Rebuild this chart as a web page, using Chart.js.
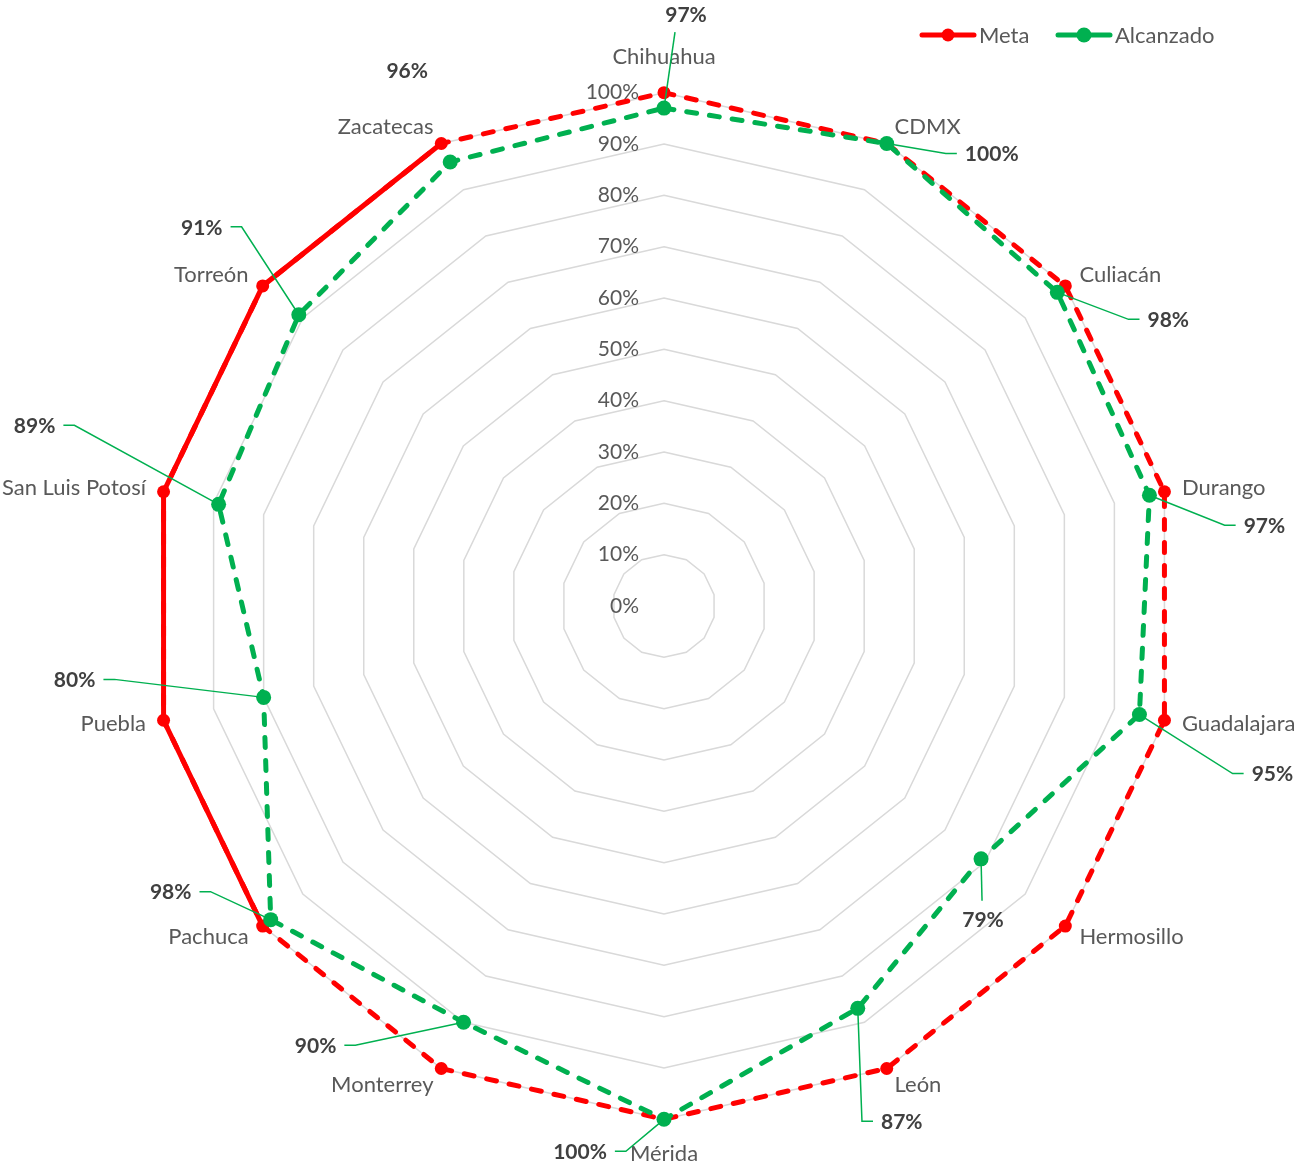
<!DOCTYPE html>
<html>
<head>
<meta charset="utf-8">
<script src="https://cdn.jsdelivr.net/npm/chart.js@4.4.1/dist/chart.umd.min.js"></script>
<style>
  html, body { margin: 0; background: #fff; overflow: hidden; }
  #wrap { width: 1298px; height: 1166px; overflow: hidden; position: relative; }
  /* canvas is a bit wider/taller than the page so the radar fills it like the original */
  #radar { position: absolute; left: -13px; top: 0; }
</style>
</head>
<body>
<div id="wrap"><canvas id="radar" width="1324" height="1180"></canvas></div>
<script>
// data
const cities = ['Chihuahua', 'CDMX', 'Culiacán', 'Durango', 'Guadalajara', 'Hermosillo', 'León',
                'Mérida', 'Monterrey', 'Pachuca', 'Puebla', 'San Luis Potosí', 'Torreón', 'Zacatecas'];
const meta = [100, 100, 100, 100, 100, 100, 100, 100, 100, 100, 100, 100, 100, 100];
const alcanzado = [97, 100, 98, 97, 95, 79, 87, 100, 90, 98, 80, 89, 91, 96];
const tickValues = [0, 10, 20, 30, 40, 50, 60, 70, 80, 90, 100];

// Meta is drawn solid along these cities, dashed elsewhere
const metaSolid = ['Pachuca', 'Puebla', 'San Luis Potosí', 'Torreón', 'Zacatecas'];

// where each "Alcanzado" label sits relative to its point, and which way its leader goes
const labelDx = [22, 105, 111, 115, 133, 2, 44, -84, -148, -100, -189, -184, -97, -43];
const labelDy = [-94, 10, 27, 30, 59, 60, 113, 32, 23, -28, -18, -79, -88, -92];
const leaderSide = ['v', 'r', 'r', 'r', 'r', 'v', 'r', 'l', 'l', 'l', 'l', 'l', 'l', null];

const RED = '#ff0000';
const GREEN = '#00b050';
const FONT = 'Lato, "Open Sans", sans-serif';
const DASH = [10, 13];
const SHIFT = 13; // canvas left offset in the page

// solid stretch of Meta: a copy of meta with gaps outside metaSolid (radar has no segment styling)
const metaSolidData = meta.map((v, i) => metaSolid.includes(cities[i]) ? v : null);

// Excel centres the category names on their anchor; Chart.js hangs them off it
const centerPointLabels = {
    id: 'centerPointLabels',
    afterLayout(chart) {
        const s = chart.scales.r;
        (s._pointLabelItems || []).forEach(item => {
            const h = item.bottom - item.top;
            let dy;
            if (item.textAlign === 'center') {
                dy = item.y < s.yCenter ? -5 : 3;
            } else {
                dy = item.y < s.yCenter ? h / 2 : -h / 2;
            }
            item.y += dy;
            item.top += dy;
            item.bottom += dy;
        });
    }
};

const tickLabels = {
    id: 'tickLabels',
    afterDatasetsDraw(chart) {
        const s = chart.scales.r;
        const ctx = chart.ctx;
        ctx.save();
        ctx.font = '21px ' + FONT;
        ctx.fillStyle = '#595959';
        ctx.textAlign = 'right';
        ctx.textBaseline = 'middle';
        tickValues.forEach(v => {
            ctx.fillText(v + '%', s.xCenter - 25, s.yCenter - s.getDistanceFromCenterForValue(v));
        });
        ctx.restore();
    }
};

const valueLabels = {
    id: 'valueLabels',
    afterDatasetsDraw(chart) {
        const ctx = chart.ctx;
        const pts = chart.getDatasetMeta(2).data;
        ctx.save();
        ctx.font = 'bold 21px ' + FONT;
        ctx.textAlign = 'center';
        ctx.textBaseline = 'middle';
        pts.forEach((p, i) => {
            const lx = p.x + labelDx[i];
            const ly = p.y + labelDy[i];
            const text = alcanzado[i] + '%';
            const w = ctx.measureText(text).width;
            const side = leaderSide[i];
            if (side) {
                ctx.strokeStyle = GREEN;
                ctx.lineWidth = 1.5;
                ctx.beginPath();
                ctx.moveTo(p.x, p.y);
                if (side === 'v') {
                    ctx.lineTo(lx + (p.x - lx) * 0.5, ly + Math.sign(p.y - ly) * 18);
                } else if (side === 'r') {
                    ctx.lineTo(lx - w / 2 - 19, ly);
                    ctx.lineTo(lx - w / 2 - 8, ly);
                } else {
                    ctx.lineTo(lx + w / 2 + 19, ly);
                    ctx.lineTo(lx + w / 2 + 8, ly);
                }
                ctx.stroke();
            }
            ctx.fillStyle = '#404040';
            ctx.fillText(text, lx, ly + 1);
        });
        ctx.restore();
    }
};

const legendBox = {
    id: 'legendBox',
    afterDraw(chart) {
        const ctx = chart.ctx;
        const items = [
            { text: 'Meta', color: RED, x: 920 + SHIFT, r: 6.5 },
            { text: 'Alcanzado', color: GREEN, x: 1056 + SHIFT, r: 7.5 }
        ];
        const y = 35;
        ctx.save();
        ctx.font = '22px ' + FONT;
        ctx.textBaseline = 'middle';
        ctx.textAlign = 'left';
        items.forEach(it => {
            ctx.strokeStyle = it.color;
            ctx.fillStyle = it.color;
            ctx.lineWidth = 5;
            ctx.lineCap = 'round';
            ctx.beginPath();
            ctx.moveTo(it.x + 2, y);
            ctx.lineTo(it.x + 54, y);
            ctx.stroke();
            ctx.beginPath();
            ctx.arc(it.x + 28, y, it.r, 0, Math.PI * 2);
            ctx.fill();
            ctx.fillStyle = '#595959';
            ctx.fillText(it.text, it.x + 59, y + 1);
        });
        ctx.restore();
    }
};

new Chart(document.getElementById('radar'), {
    type: 'radar',
    data: {
        labels: cities,
        datasets: [{
            label: 'Meta',
            data: meta,
            order: 2,
            borderColor: RED,
            backgroundColor: RED,
            borderWidth: 5,
            borderCapStyle: 'round',
            borderDash: DASH,
            pointRadius: 6.5,
            pointBorderWidth: 0,
            pointBackgroundColor: RED,
            fill: false
        }, {
            label: 'Meta',
            data: metaSolidData,
            order: 1,
            borderColor: RED,
            borderWidth: 5,
            borderCapStyle: 'round',
            pointRadius: 0,
            spanGaps: false,
            fill: false
        }, {
            label: 'Alcanzado',
            data: alcanzado,
            order: 0,
            borderColor: GREEN,
            backgroundColor: GREEN,
            borderWidth: 5,
            borderCapStyle: 'round',
            borderDash: DASH,
            pointRadius: 7.5,
            pointBorderWidth: 0,
            pointBackgroundColor: GREEN,
            fill: false
        }]
    },
    options: {
        responsive: false,
        animation: false,
        layout: { padding: { top: 34, bottom: 0, left: 0, right: 0 } },
        scales: {
            r: {
                min: 0,
                max: 100,
                ticks: { display: false, stepSize: 10 },
                grid: { color: '#d9d9d9', lineWidth: 1.5, circular: false },
                angleLines: { display: false },
                pointLabels: {
                    padding: 18,
                    color: '#595959',
                    font: { family: FONT, size: 22 }
                }
            }
        },
        plugins: {
            legend: { display: false },
            tooltip: { enabled: false }
        }
    },
    plugins: [centerPointLabels, tickLabels, valueLabels, legendBox]
});
</script>
</body>
</html>
